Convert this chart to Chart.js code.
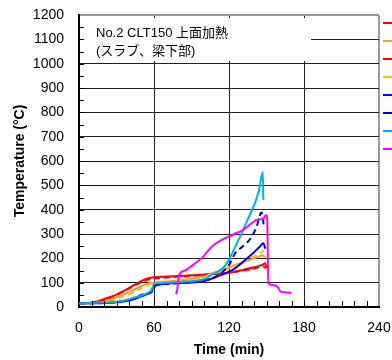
<!DOCTYPE html>
<html>
<head>
<meta charset="utf-8">
<script src="https://cdn.jsdelivr.net/npm/chart.js@4.4.0/dist/chart.umd.min.js"></script>
<style>
  html, body { margin: 0; padding: 0; background: #fff; overflow: hidden; }
  #wrap { width: 392px; height: 360px; }
</style>
</head>
<body>
<div id="wrap"><canvas id="tempChart" width="392" height="360"></canvas></div>
<script>
// Measured temperatures: time in min, temperature in °C
const time1 = [0, 5, 10, 15, 20, 25, 30, 35, 40, 45, 50, 55, 60, 70, 80, 90, 100, 110, 120, 130, 140, 147, 149, 150];
const temp1 = [15, 15, 18, 24, 32, 41, 51, 64, 78, 93, 107, 117, 122, 125, 127, 130, 134, 137, 141, 151, 163, 174, 180, 158];

const time2 = [0, 5, 10, 15, 20, 25, 30, 35, 40, 45, 50, 55, 60, 70, 80, 90, 100, 110, 120, 130, 140, 147, 149];
const temp2 = [15, 15, 16, 19, 24, 31, 40, 50, 61, 73, 86, 96, 101, 105, 109, 115, 127, 145, 163, 182, 200, 212, 205];

const time3 = [0, 5, 10, 15, 20, 25, 30, 35, 40, 45, 50, 55, 60, 70, 80, 90, 100, 110, 120, 130, 140, 147, 149];
const temp3 = [15, 15, 17, 22, 30, 39, 49, 62, 76, 90, 102, 112, 117, 121, 124, 128, 132, 136, 141, 149, 158, 168, 160];

const time4 = [0, 10, 20, 30, 40, 45, 50, 55, 60, 70, 80, 90, 100, 110, 120, 130, 140, 145, 148];
const temp4 = [15, 16, 21, 33, 52, 65, 78, 90, 98, 103, 108, 115, 126, 142, 160, 183, 208, 222, 232];

const time5 = [0, 10, 20, 30, 40, 45, 50, 55, 58, 60, 65, 70, 80, 90, 97, 105, 110, 120, 125, 130, 135, 140, 145, 147.5, 149];
const temp5 = [15, 15, 16, 19, 27, 34, 44, 54, 62, 86, 92, 96, 99, 101, 104, 114, 124, 145, 160, 180, 202, 225, 250, 262, 240];

const time6 = [0, 10, 20, 30, 40, 49, 55, 58, 60, 62, 70, 80, 90, 100, 110, 115, 120, 125, 130, 134, 139, 142, 146, 147, 148];
const temp6 = [15, 15, 16, 20, 30, 48, 57, 62, 75, 92, 95, 98, 101, 108, 127, 145, 172, 222, 245, 262, 296, 329, 388, 370, 325];

const time7 = [0, 10, 20, 30, 40, 45, 51, 55, 58, 60, 65, 70, 81, 90, 97, 103, 107, 113, 117, 121, 125, 129, 135, 141, 144, 147, 147.5];
const temp7 = [15, 16, 18, 22, 32, 40, 49, 58, 70, 95, 98, 100, 103, 106, 111, 122, 135, 152, 170, 205, 248, 290, 360, 430, 480, 555, 440];

const time8 = [77.6, 78.5, 79.2, 80, 85, 91, 99, 106, 114, 120, 126, 131, 137, 142, 146, 148, 149.5, 150.5, 151.5, 155, 159, 161.5, 166, 170];
const temp8 = [53, 68, 100, 131, 150, 172, 205, 247, 275, 290, 304, 316, 340, 358, 362, 366, 378, 370, 98, 90, 82, 63, 60, 58];

const xTicks = [0, 60, 120, 180, 240];
const yTicks = [0, 100, 200, 300, 400, 500, 600, 700, 800, 900, 1000, 1100, 1200];
const captionLines = ["No.2 CLT150 上面加熱", "(スラブ、梁下部)"];

const FONT = "'Liberation Sans', 'Noto Sans CJK JP', sans-serif";

const series = [
  { time: time1, temp: temp1, color: "#FF0000", dash: [] },
  { time: time2, temp: temp2, color: "#F79646", dash: [] },
  { time: time3, temp: temp3, color: "#FF0000", dash: [6, 4] },
  { time: time4, temp: temp4, color: "#FFC000", dash: [6, 4] },
  { time: time5, temp: temp5, color: "#0000FF", dash: [] },
  { time: time6, temp: temp6, color: "#0000E0", dash: [6, 4] },
  { time: time7, temp: temp7, color: "#00B0F0", dash: [] },
  { time: time8, temp: temp8, color: "#FF00FF", dash: [] },
];

const datasets = series.map((s, i) => ({
  data: s.time.map((t, k) => ({ x: t, y: s.temp[k] })),
  borderColor: s.color,
  borderDash: s.dash,
  borderWidth: 2,
  pointRadius: 0,
  fill: false,
  cubicInterpolationMode: "monotone",
  order: series.length - i,
}));

// caption box, inner minor ticks and the clipped legend stubs on the right
const overlay = {
  id: "overlay",
  beforeDatasetsDraw(chart) {
    const { ctx, chartArea } = chart;
    ctx.save();
    ctx.fillStyle = "#fff";
    ctx.fillRect(chartArea.left + 5, chartArea.top + 3, 227, 43);
    ctx.fillStyle = "#000";
    ctx.font = "13px " + FONT;
    ctx.textBaseline = "alphabetic";
    ctx.fillText(captionLines[0], chartArea.left + 17, chartArea.top + 22);
    ctx.fillText(captionLines[1], chartArea.left + 17, chartArea.top + 40);
    ctx.restore();
  },
  afterDatasetsDraw(chart) {
    const { ctx, chartArea, scales } = chart;
    ctx.save();
    ctx.strokeStyle = "#000";
    ctx.lineWidth = 1;
    ctx.beginPath();
    for (let v = 50; v < 1200; v += 50) {
      const y = Math.round(scales.y.getPixelForValue(v)) + 0.5;
      ctx.moveTo(chartArea.left, y);
      ctx.lineTo(chartArea.left + 5, y);
    }
    for (let t = 10; t < 240; t += 10) {
      const x = Math.round(scales.x.getPixelForValue(t)) + 0.5;
      ctx.moveTo(x, chartArea.bottom);
      ctx.lineTo(x, chartArea.bottom - 6);
    }
    ctx.stroke();

    ctx.lineWidth = 2;
    series.forEach((s, i) => {
      const y = chartArea.top + 8 + 18 * i;
      ctx.strokeStyle = s.color;
      ctx.beginPath();
      ctx.moveTo(chartArea.right + 4, y);
      ctx.lineTo(chart.width, y);
      ctx.stroke();
    });
    ctx.restore();
  },
};

new Chart(document.getElementById("tempChart"), {
  type: "line",
  data: { datasets: datasets },
  plugins: [overlay],
  options: {
    responsive: false,
    animation: false,
    layout: { padding: { left: 0, top: 15, right: 13, bottom: 0 } },
    plugins: { legend: { display: false }, tooltip: { enabled: false } },
    scales: {
      x: {
        type: "linear",
        min: 0,
        max: 240,
        afterBuildTicks: (axis) => { axis.ticks = xTicks.map((v) => ({ value: v })); },
        afterFit: (axis) => { axis.height = 53; },
        ticks: {
          color: "#000",
          font: { family: FONT, size: 14 },
          padding: 0,
          maxRotation: 0,
          callback: (v) => String(v),
        },
        grid: {
          tickLength: 13,
          tickColor: "rgba(0,0,0,0)",
          color: (c) => (c.tick && c.tick.value === 240 ? "#9a9a9a" : "#222"),
          lineWidth: (c) => (c.tick && c.tick.value === 240 ? 2 : 1),
        },
        border: { color: "#000", width: 2 },
        title: {
          display: true,
          text: "Time (min)",
          color: "#000",
          font: { family: FONT, size: 14, weight: "bold" },
          padding: { top: 0, bottom: 1 },
        },
      },
      y: {
        min: 0,
        max: 1200,
        afterBuildTicks: (axis) => { axis.ticks = yTicks.map((v) => ({ value: v })); },
        afterFit: (axis) => { axis.width = 79; },
        ticks: {
          color: "#000",
          font: { family: FONT, size: 14 },
          padding: 0,
          callback: (v) => String(v),
        },
        grid: {
          tickLength: 15,
          tickColor: "rgba(0,0,0,0)",
          color: (c) => (c.tick && c.tick.value === 1200 ? "#9a9a9a" : "#222"),
          lineWidth: (c) => (c.tick && c.tick.value === 1200 ? 2 : 1),
        },
        border: { color: "#000", width: 2 },
        title: {
          display: true,
          text: "Temperature (°C)",
          color: "#000",
          font: { family: FONT, size: 14, weight: "bold" },
          padding: { top: 12, bottom: 0 },
        },
      },
    },
  },
});
</script>
</body>
</html>
